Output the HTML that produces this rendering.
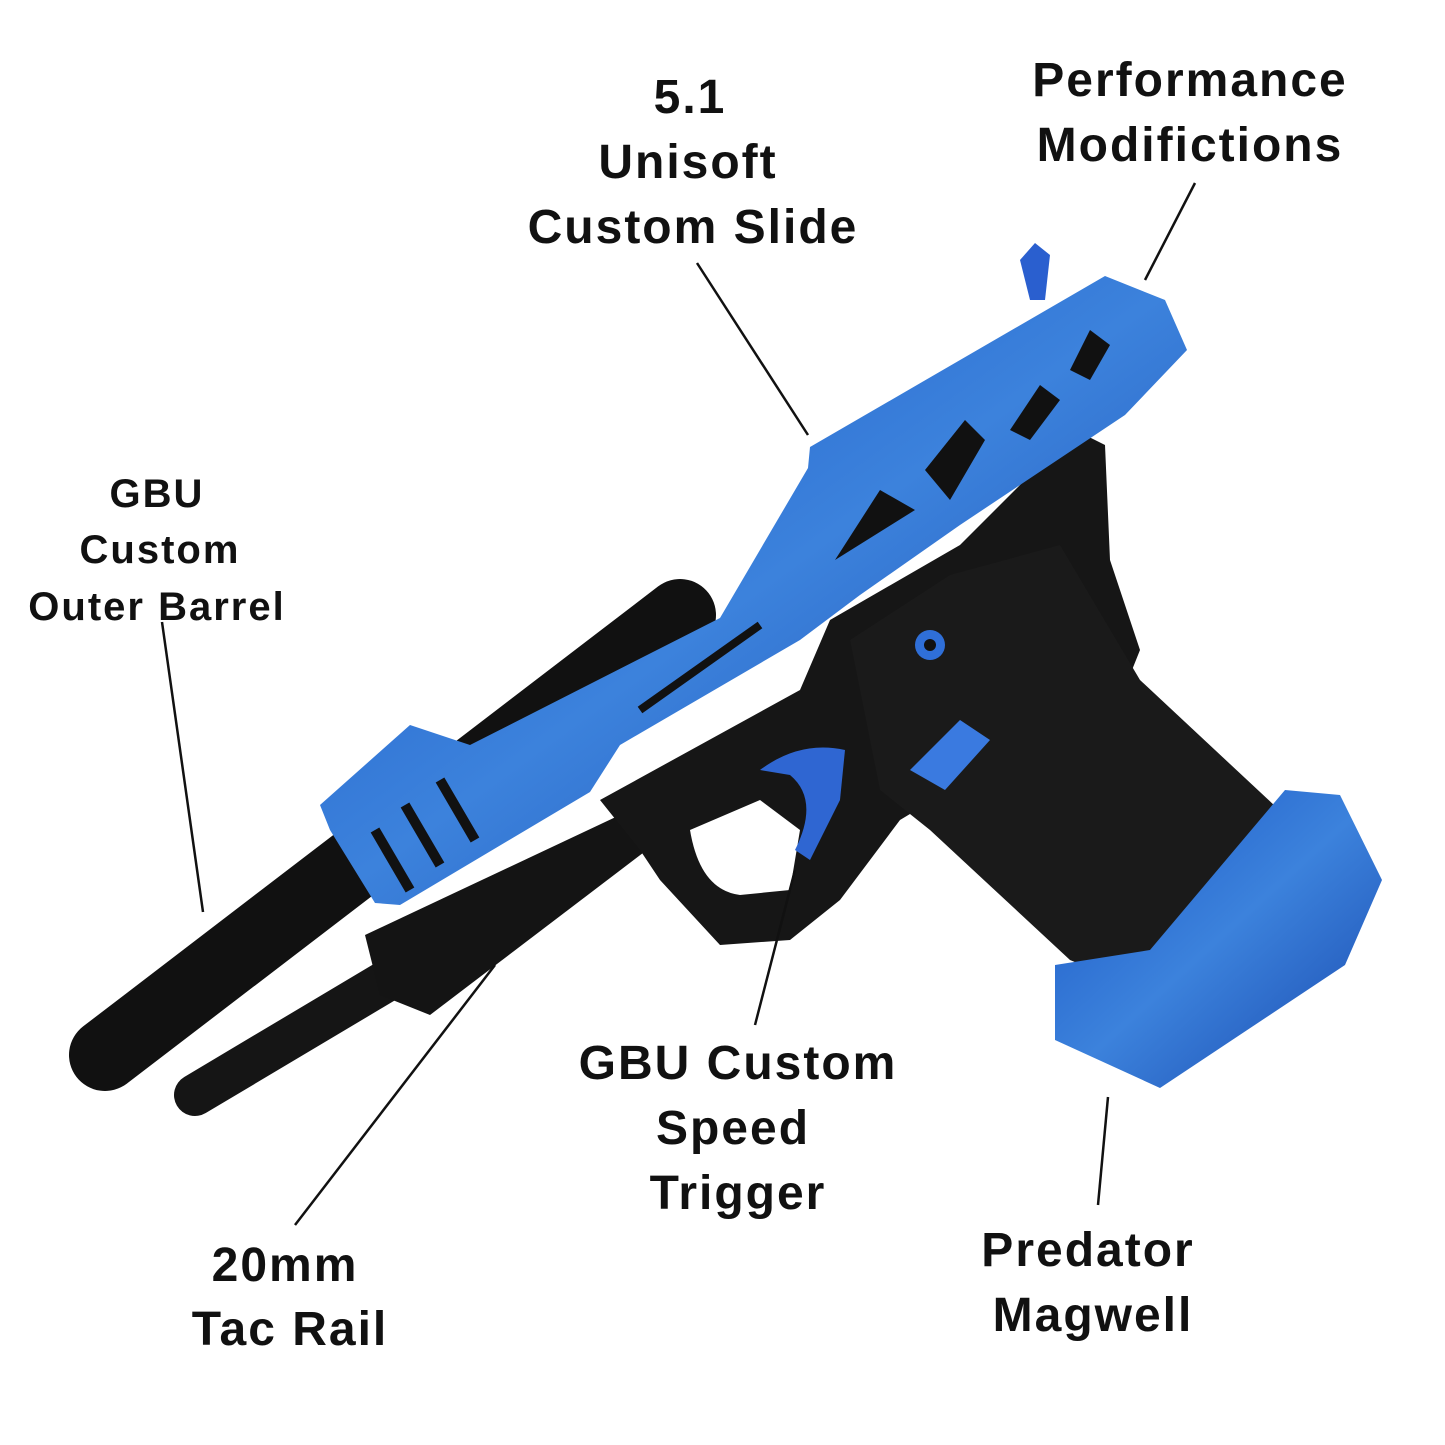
<!DOCTYPE html>
<html><head><meta charset="utf-8"><style>
html,body{margin:0;padding:0;background:#fff;}
svg{display:block;}
text{font-family:"Liberation Sans",sans-serif;font-weight:bold;fill:#111;text-anchor:middle;letter-spacing:2px;}
</style></head><body>
<svg width="1445" height="1445" viewBox="0 0 1445 1445" xmlns="http://www.w3.org/2000/svg">
<defs>
<linearGradient id="bl" x1="0" y1="0" x2="1" y2="1">
<stop offset="0" stop-color="#1a56c4"/><stop offset="0.5" stop-color="#3c82dc"/><stop offset="1" stop-color="#1848ad"/>
</linearGradient>
</defs>
<line x1="105" y1="1055" x2="680" y2="615" stroke="#111" stroke-width="72" stroke-linecap="round"/>
<line x1="195" y1="1095" x2="430" y2="955" stroke="#151515" stroke-width="42" stroke-linecap="round"/>
<polygon points="365,935 620,815 660,840 430,1015 380,995" fill="#141414"/>
<polygon points="600,800 800,690 830,620 960,545 1075,430 1105,445 1110,560 1140,650 1120,700 1000,760 900,820 840,900 790,940 720,945 660,880 640,850" fill="#161616"/>
<path d="M690,830 Q700,890 740,895 L790,890 L800,830 L760,800 Z" fill="#fff"/>
<path d="M760,770 Q800,740 845,750 L840,800 Q825,830 810,860 L795,850 Q820,800 790,775 Z" fill="#2f66d2"/>
<polygon points="850,640 950,575 1060,545 1140,680 1290,820 1275,950 1165,1000 1070,960 930,830 880,790" fill="#1a1a1a"/>
<polygon points="1055,965 1150,950 1285,790 1340,795 1382,880 1345,965 1160,1088 1055,1040" fill="url(#bl)"/>
<polygon points="320,805 410,725 470,745 720,618 808,468 810,447 1105,276 1165,300 1187,350 1125,415 960,525 860,595 800,640 620,745 590,792 400,905 375,903 330,830" fill="url(#bl)"/>
<polygon points="835,560 880,490 915,510" fill="#111"/>
<polygon points="925,470 965,420 985,440 950,500" fill="#111"/>
<polygon points="1010,430 1040,385 1060,400 1030,440" fill="#111"/>
<polygon points="1070,370 1090,330 1110,345 1090,380" fill="#111"/>
<line x1="375" y1="830" x2="410" y2="890" stroke="#111" stroke-width="10"/>
<line x1="405" y1="805" x2="440" y2="865" stroke="#111" stroke-width="10"/>
<line x1="440" y1="780" x2="475" y2="840" stroke="#111" stroke-width="10"/>
<line x1="640" y1="710" x2="760" y2="625" stroke="#111" stroke-width="8"/>
<polygon points="1020,260 1035,243 1050,255 1045,300 1030,300" fill="#2a5fcf"/>
<circle cx="930" cy="645" r="15" fill="#2f6fd8"/><circle cx="930" cy="645" r="6" fill="#111"/>
<polygon points="910,770 960,720 990,740 945,790" fill="#3a7ae0"/>
<g stroke="#111" stroke-width="2.5">
<line x1="697" y1="263" x2="808" y2="435"/>
<line x1="1195" y1="183" x2="1145" y2="280"/>
<line x1="162" y1="622" x2="203" y2="912"/>
<line x1="295" y1="1225" x2="495" y2="965"/>
<line x1="755" y1="1025" x2="795" y2="870"/>
<line x1="1108" y1="1097" x2="1098" y2="1205"/>
</g>
<g font-size="48">
<text x="690" y="113">5.1</text>
<text x="688" y="178">Unisoft</text>
<text x="693" y="243">Custom Slide</text>
<text x="1190" y="96">Performance</text>
<text x="1190" y="161">Modifictions</text>
<text x="285" y="1281">20mm</text>
<text x="290" y="1345">Tac Rail</text>
<text x="738" y="1079">GBU Custom</text>
<text x="733" y="1144">Speed</text>
<text x="738" y="1209">Trigger</text>
<text x="1088" y="1266">Predator</text>
<text x="1093" y="1331">Magwell</text>
</g>
<g font-size="40">
<text x="157" y="507">GBU</text>
<text x="160" y="563">Custom</text>
<text x="157" y="620">Outer Barrel</text>
</g>
</svg>
</body></html>
